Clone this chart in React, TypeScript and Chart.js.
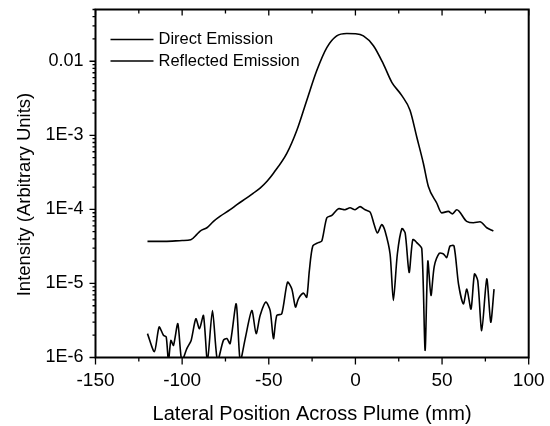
import React, { useEffect, useRef } from "react";
import { Chart, registerables } from "chart.js";

Chart.register(...registerables);

// ---------- data ----------
const seriesNames = ["Direct Emission", "Reflected Emission"];

const directX = [
  -120, -110, -100, -95, -91.5, -89.6, -85.7, -81.9, -78, -72.3, -68.4, -62.7, -58.9, -55, -51,
  -47.3, -39.6, -33.8, -28.1, -22.3, -16.5, -10.8, -5, 0, 4.6, 10.4, 16.1, 21, 26.7, 31.5, 35.4,
  39.2, 42.1, 46.9, 49.8, 53.6, 56, 58.5, 64.2, 68.1, 71.9, 75.8, 79.6,
];
const directY = [
  3.7e-5, 3.7e-5, 3.8e-5, 3.9e-5, 4.6e-5, 5.1e-5, 5.65e-5, 6.9e-5, 8.1e-5, 9.9e-5, 1.16e-4, 1.43e-4,
  1.66e-4, 1.94e-4, 2.4e-4, 3.08e-4, 5.7e-4, 1.17e-3, 2.96e-3, 7.5e-3, 0.0153, 0.022, 0.0237, 0.0235,
  0.022, 0.0162, 9.2e-3, 5.2e-3, 3.46e-3, 2.18e-3, 9.5e-4, 4.2e-4, 2.04e-4, 1.22e-4, 8.97e-5, 9.4e-5,
  8.7e-5, 9.9e-5, 6.9e-5, 6.6e-5, 6.8e-5, 5.65e-5, 5.1e-5,
];

const reflectedX = [
  -120, -116, -113.3, -110.8, -109.2, -107.9, -106.5, -105, -102.5, -100.2, -97.3, -94.8, -92.1, -90,
  -87.7, -85.4, -82.5, -79.6, -76.2, -74.2, -72.3, -68.8, -66.5, -63.6, -59.8, -57.3, -55, -51.7,
  -49.2, -47.3, -45.4, -42.5, -39.2, -36.7, -34.6, -32.9, -30, -28.1, -26.6, -24.6, -21.4, -19.4,
  -16.5, -13.6, -9.8, -6, -3.1, -0.2, 2.7, 5.6, 8.5, 10.8, 12.7, 15.2, 17.1, 20, 21.9, 24.2, 26.8,
  28.7, 31, 33.1, 35.4, 38.3, 40.2, 41.8, 43.6, 45.5, 48.4, 50.8, 52.7, 54.6, 56.9, 59.5, 62.3, 64.3,
  66.7, 68.7, 70.6, 72.9, 75.8, 78.1, 80,
];
const reflectedY = [
  2.1e-6, 1.2e-6, 2.58e-6, 2.0e-6, 1.9e-6, 0.9e-6, 1.7e-6, 1.46e-6, 2.86e-6, 0.9e-6, 1.32e-6, 1.7e-6,
  3.33e-6, 2.45e-6, 3.69e-6, 0.9e-6, 4.3e-6, 0.9e-6, 1.7e-6, 1.8e-6, 1.54e-6, 5.3e-6, 0.9e-6, 1.8e-6,
  4.3e-6, 2.1e-6, 3.69e-6, 5.6e-6, 4.3e-6, 1.8e-6, 3.69e-6, 3.9e-6, 1.04e-5, 8.4e-6, 4.8e-6, 6.2e-6,
  7.4e-6, 6.5e-6, 1.48e-5, 3.2e-5, 3.56e-5, 3.73e-5, 7.7e-5, 8.3e-5, 1.02e-4, 9.9e-5, 1.05e-4, 9.9e-5,
  1.09e-4, 9.9e-5, 9.2e-5, 6.25e-5, 4.8e-5, 6.25e-5, 5.1e-5, 2.5e-5, 5.9e-6, 2.5e-5, 5.5e-5, 4.8e-5,
  1.41e-5, 3.9e-5, 3.56e-5, 2.95e-5, 1.25e-6, 2.0e-5, 6.9e-6, 1.7e-5, 2.55e-5, 2.5e-5, 2.24e-5,
  3.2e-5, 3.2e-5, 9.8e-6, 5.3e-6, 8.4e-6, 4.5e-6, 1.34e-5, 1.09e-5, 2.3e-6, 1.15e-5, 3.0e-6, 8.4e-6,
];

const xMin = -150;
const xMax = 100;
const xMajorStep = 50;
const xMinorStep = 25;
const yMin = 1e-6;
const yMax = 0.05;
const yDecades = [1e-6, 1e-5, 1e-4, 1e-3, 1e-2];
const yDecadeLabels = ["1E-6", "1E-5", "1E-4", "1E-3", "0.01"];

const xAxisTitle = "Lateral Position Across Plume (mm)";
const yAxisTitle = "Intensity (Arbitrary Units)";

const FONT = "'Liberation Sans', Arial, Helvetica, sans-serif";

const zeroPadding = (s: any) => {
  s.paddingTop = 0;
  s.paddingBottom = 0;
  s.paddingLeft = 0;
  s.paddingRight = 0;
};

const decorPlugin = {
  id: "decor",
  afterDraw(chart: any) {
    const { ctx, chartArea: a, scales } = chart;
    const x = scales.x;
    const y = scales.y;
    ctx.save();
    ctx.strokeStyle = "#000";
    // frame
    ctx.lineWidth = 2;
    ctx.strokeRect(a.left, a.top, a.right - a.left, a.bottom - a.top);
    // ticks
    ctx.lineWidth = 1.3;
    ctx.beginPath();
    for (let v = xMin; v <= xMax + 1e-9; v += xMinorStep) {
      const px = x.getPixelForValue(v);
      const major = Math.abs(v % xMajorStep) < 1e-9;
      ctx.moveTo(px, a.bottom);
      ctx.lineTo(px, a.bottom + (major ? 7 : 4));
      ctx.moveTo(px, a.top);
      ctx.lineTo(px, a.top + (major ? 6 : 4));
    }
    for (let e = -6; e <= -2; e++) {
      for (let k = 1; k <= 9; k++) {
        const v = k * Math.pow(10, e);
        if (v > yMax * 1.0001) break;
        const py = y.getPixelForValue(v);
        ctx.moveTo(a.left, py);
        ctx.lineTo(a.left - (k === 1 ? 6 : 3), py);
      }
    }
    ctx.stroke();

    // legend (inside plot, top-left)
    ctx.fillStyle = "#000";
    ctx.font = `16.5px ${FONT}`;
    ctx.textBaseline = "middle";
    ctx.textAlign = "left";
    chart.data.datasets.forEach((ds: any, i: number) => {
      const ly = a.top + 30 + i * 21.5;
      ctx.beginPath();
      ctx.lineWidth = 1.5;
      ctx.moveTo(a.left + 15, ly);
      ctx.lineTo(a.left + 58, ly);
      ctx.stroke();
      ctx.fillText(ds.label, a.left + 63, ly);
    });

    // y axis title
    ctx.save();
    ctx.translate(25, (a.top + a.bottom) / 2 + 11);
    ctx.rotate(-Math.PI / 2);
    ctx.font = `18.5px ${FONT}`;
    ctx.textAlign = "center";
    ctx.textBaseline = "middle";
    ctx.fillText(yAxisTitle, 0, 0);
    ctx.restore();

    ctx.restore();
  },
};

export default function App() {
  const ref = useRef<HTMLCanvasElement | null>(null);

  useEffect(() => {
    if (!ref.current) return;
    const direct = directX.map((v, i) => ({ x: v, y: directY[i] }));
    const reflected = reflectedX.map((v, i) => ({ x: v, y: reflectedY[i] }));
    const chart = new Chart(ref.current, {
      type: "line",
      data: {
        datasets: [
          {
            label: seriesNames[0],
            data: direct,
            borderColor: "#000",
            borderWidth: 1.6,
            pointRadius: 0,
            cubicInterpolationMode: "monotone",
            fill: false,
          },
          {
            label: seriesNames[1],
            data: reflected,
            borderColor: "#000",
            borderWidth: 1.6,
            pointRadius: 0,
            tension: 0.25,
            fill: false,
          },
        ],
      },
      options: {
        animation: false,
        responsive: false,
        layout: { padding: { top: 9.5, right: 21.3, left: 0, bottom: 0 } },
        plugins: {
          legend: { display: false },
          tooltip: { enabled: false },
        },
        scales: {
          x: {
            type: "linear",
            min: xMin,
            max: xMax,
            grid: { display: false, drawTicks: false },
            border: { display: false },
            ticks: {
              stepSize: xMajorStep,
              padding: 12,
              color: "#000",
              font: { family: FONT, size: 19 },
              callback: (v: any) => String(v),
            },
            title: {
              display: true,
              text: xAxisTitle,
              color: "#000",
              font: { family: FONT, size: 20 },
              padding: { top: 5, bottom: 0 },
            },
            afterFit: (s: any) => {
              s.height = 426 - 357.5;
              zeroPadding(s);
            },
          },
          y: {
            type: "logarithmic",
            min: yMin,
            max: yMax,
            grid: { display: false, drawTicks: false },
            border: { display: false },
            ticks: {
              autoSkip: false,
              padding: 12,
              color: "#000",
              font: { family: FONT, size: 18 },
              callback: (v: any) => {
                const idx = yDecades.findIndex((d) => Math.abs(Number(v) / d - 1) < 1e-6);
                return idx >= 0 ? yDecadeLabels[idx] : null;
              },
            },
            afterFit: (s: any) => {
              s.width = 95.5;
              zeroPadding(s);
            },
          },
        },
      } as any,
      plugins: [decorPlugin],
    });
    return () => chart.destroy();
  }, []);

  return (
    <div style={{ position: "absolute", left: 0, top: 0, width: 550, height: 426, background: "#fff" }}>
      <canvas ref={ref} width={550} height={426} style={{ width: 550, height: 426, display: "block" }} />
    </div>
  );
}
